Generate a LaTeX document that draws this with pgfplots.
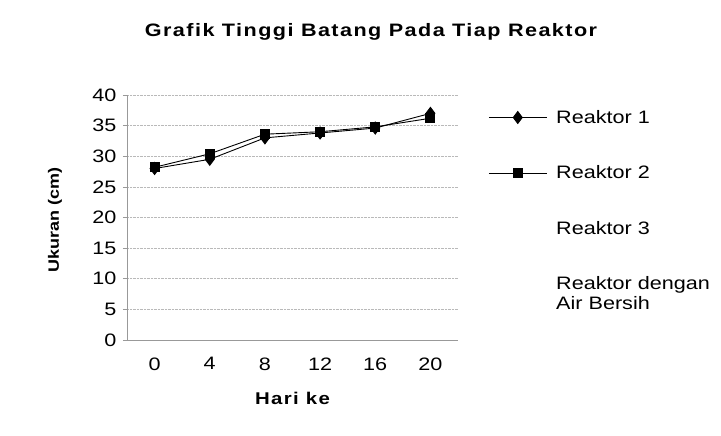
\documentclass[border=0pt]{standalone}
\usepackage{fontspec}
\setmainfont{Liberation Sans}[FakeStretch=1.2]
\newfontfamily\titlefont{Liberation Sans}[FakeStretch=1.2,LetterSpace=8]
\usepackage{pgfplots}
\pgfplotsset{compat=1.18}

\begin{document}
\begin{tikzpicture}[x=1pt,y=1pt]
\useasboundingbox (0,0) rectangle (721pt,436pt);
\node[font=\titlefont\bfseries\fontsize{18}{20}\selectfont] at (371pt,404pt) {Grafik Tinggi Batang Pada Tiap Reaktor};
\begin{axis}[
  at={(127pt,96pt)}, anchor=south west,
  width=331pt, height=245pt, scale only axis,
  xmin=-0.5, xmax=5.5, ymin=0, ymax=40,
  xtick={0,...,5}, xticklabels={0,4,8,12,16,20},
  ytick={0,5,...,40},
  axis x line=bottom, axis y line=left,
  axis line style={-, gray!80, line width=0.8pt},
  xtick style={draw=none},
  ytick style={gray!80, line width=0.6pt},
  tick align=outside, major tick length=4pt,
  ymajorgrids, grid style={gray!55, densely dotted, line width=0.7pt},
  /pgf/number format/assume math mode=true,
  tick label style={font=\fontsize{18}{20}\selectfont},
  xticklabel style={yshift=-10pt},
  yticklabel style={xshift=-3pt},
  xlabel={Hari ke}, ylabel={Ukuran (cm)},
  xlabel style={font=\titlefont\bfseries\fontsize{17}{20}\selectfont, at={(axis description cs:0.5,-0.237)}, anchor=center},
  ylabel style={font=\bfseries\fontsize{15}{18}\selectfont, at={(axis description cs:-0.2175,0.49)}, anchor=center},
  legend style={draw=none, fill=none, at={(axis description cs:1.082,0.955)}, anchor=north west,
    font=\fontsize{18}{20}\selectfont, row sep=37pt, nodes={align=left},
    /tikz/every odd column/.append style={column sep=7pt}},
  legend cell align=left,
  legend image code/.code={\draw[mark repeat=2,mark phase=2,#1] plot coordinates {(0pt,0pt) (29pt,0pt) (58pt,0pt)};},
  clip=false,
]
\addplot[black, line width=0.9pt, mark=diamond*, mark size=6pt, mark options={solid, fill=black}]
  coordinates {(0,28.0) (1,29.5) (2,33.0) (3,33.8) (4,34.6) (5,37.0)};
\addlegendentry{Reaktor 1}
\addplot[black, line width=0.9pt, mark=square*, mark size=4.5pt, mark options={solid, fill=black}]
  coordinates {(0,28.2) (1,30.4) (2,33.6) (3,34.0) (4,34.8) (5,36.2)};
\addlegendentry{Reaktor 2}
\addlegendimage{empty legend}
\addlegendentry{Reaktor 3}
\addlegendimage{empty legend}
\addlegendentry{Reaktor dengan\\Air Bersih}
\end{axis}
\end{tikzpicture}
\end{document}
